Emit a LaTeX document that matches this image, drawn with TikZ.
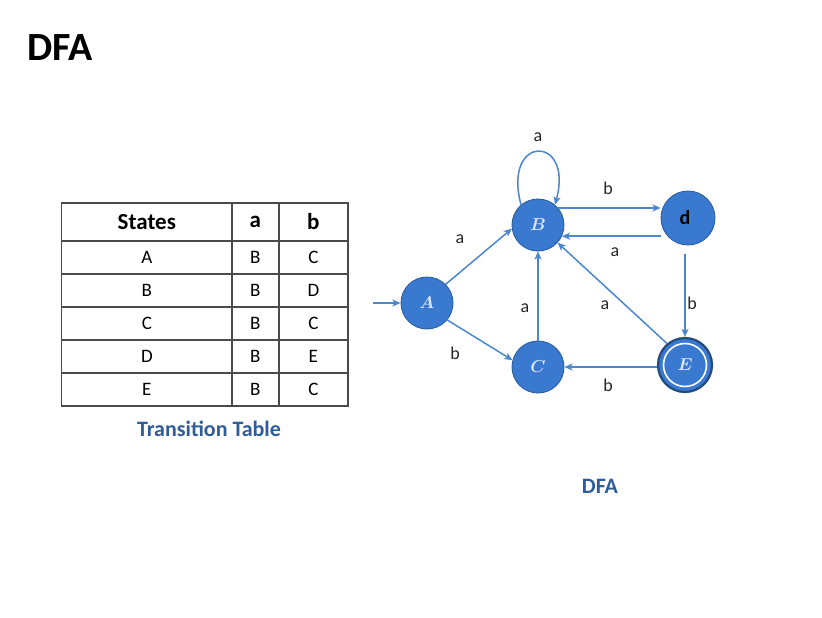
\documentclass[tikz,border=0pt]{standalone}
\usepackage{fontspec}
\setmainfont{Carlito}
\usepackage{tikz}
\usetikzlibrary{arrows.meta, positioning, matrix, calc}
\definecolor{StateFill}{HTML}{3A79D0}
\definecolor{StateLine}{HTML}{2C5F9E}
\definecolor{EdgeInk}{HTML}{4A87CF}
\definecolor{CapInk}{HTML}{2F5D9A}
\definecolor{TabLine}{HTML}{4A4A4A}
\definecolor{StateText}{HTML}{DCE6F5}

\begin{document}
\begin{tikzpicture}[
    x=1pt, y=-1pt,
    state/.style={
      circle,
      fill=StateFill,
      draw=StateLine,
      line width=0.9pt,
      minimum size=52pt,
      inner sep=0pt,
      text=StateText,
      font=\fontsize{18}{20}\selectfont\boldmath,
    },
    edge/.style={
      draw=EdgeInk,
      line width=1.5pt,
      -{Stealth[length=8pt, width=7pt, inset=2pt]},
    },
    lbl/.style={
      font=\fontsize{18}{20}\selectfont,
      text=black!85,
      inner sep=0pt,
    },
    captext/.style={
      font=\fontsize{22}{26}\selectfont\bfseries,
      text=CapInk,
    },
  ]
    \fill[white] (0,0) rectangle (822,618);
    \useasboundingbox (0,0) rectangle (822,618);

    \node[font=\fontsize{40}{44}\selectfont\bfseries, anchor=west] (title) at (24,48) {DFA};

    % transition table
    \matrix (tab) [
      matrix of nodes,
      anchor=north west,
      inner sep=0pt,
      column sep=-1.3pt,
      row sep=-1.3pt,
      nodes={draw=TabLine, line width=1.3pt, minimum height=33pt, inner sep=0pt,
        anchor=center, font=\fontsize{19}{22}\selectfont},
      row 1/.style={nodes={minimum height=38pt, font=\fontsize{23}{26}\selectfont\bfseries}},
      column 1/.style={nodes={minimum width=170pt}},
      column 2/.style={nodes={minimum width=47pt}},
      column 3/.style={nodes={minimum width=69pt}},
    ] at (61,202) {
      States & a & b \\
      A & B & C \\
      B & B & D \\
      C & B & C \\
      D & B & E \\
      E & B & C \\
    };
    \node[captext] (tabcap) at (209,429) {Transition Table};

    % states
    \node[state] (A) at (427,303) {$A$};
    \node[state] (B) at (538,225) {$B$};
    \node[state, minimum size=54pt] (d) at (688,218) {};
    \node[font=\fontsize{20}{22}\selectfont\bfseries, text=black] (dtxt) at (685,218) {d};
    \node[state, minimum size=54pt, line width=2.2pt, draw=StateLine!80!black] (E) at (685,365) {$E$};
    \draw[white, line width=1.6pt] (E.center) circle (21.5);
    \node[state] (C) at (538,367) {$C$};

    % transitions
    \coordinate (start) at (373,303);
    \draw[edge] (start) -- (A.west);
    \draw[edge] (A.45) -- (B.188);
    \draw[edge] (A.-40) -- (C.165);
    \draw[edge] (B.130) .. controls (502,134) and (574,134) .. (B.50);
    \draw[edge] (B.40) -- (B.40 -| d.west);
    \draw[edge] (B.-25 -| d.west) -- (B.-25);
    \draw[edge] ($(d.south -| E.north)+(0,9)$) -- (E.north);
    \draw[edge] (E.130) -- (B.-42);
    \draw[edge] (C.north) -- (B.south);
    \draw[edge] (E.west |- C.east) -- (C.east);

    % transition labels
    \node[lbl] (lBB) at (538,137) {a};
    \node[lbl] (lBd) at (608,188) {b};
    \node[lbl] (ldB) at (615,252) {a};
    \node[lbl] (lAB) at (460,239) {a};
    \node[lbl] (lAC) at (455,353) {b};
    \node[lbl] (lCB) at (525,308) {a};
    \node[lbl] (lEB) at (605,305) {a};
    \node[lbl] (ldE) at (692,303) {b};
    \node[lbl] (lEC) at (608,385) {b};

    \node[captext] (dfacap) at (600,486) {DFA};
  \end{tikzpicture}
\end{document}
